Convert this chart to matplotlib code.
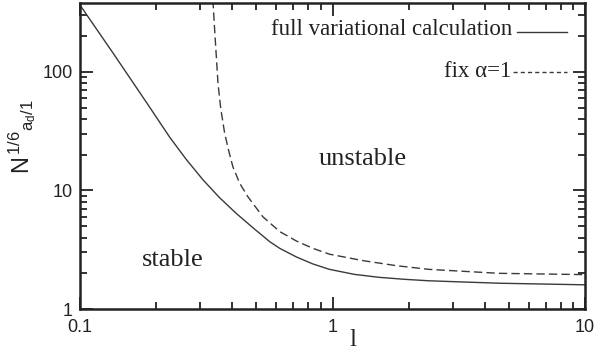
import matplotlib
matplotlib.use("Agg")
import matplotlib.pyplot as plt
from matplotlib import rcParams
from matplotlib.ticker import LogLocator, NullFormatter

# Plot styling
rcParams["font.family"] = "Liberation Sans"
rcParams["mathtext.fontset"] = "custom"
rcParams["mathtext.rm"] = "Liberation Sans"
rcParams["mathtext.it"] = "Liberation Sans"

# data (log-log)
x_full = [0.1, 0.135, 0.184, 0.227, 0.264, 0.307, 0.357, 0.416, 0.484, 0.564, 0.618,
          0.719, 0.836, 0.973, 1.22, 1.53, 1.93, 2.41, 3.3, 4.57, 10]
y_full = [367, 145, 54.7, 28, 18.2, 12.3, 8.7, 6.4, 4.85, 3.7, 3.25,
          2.75, 2.4, 2.16, 1.96, 1.85, 1.78, 1.73, 1.69, 1.65, 1.60]

x_fix = [0.336, 0.339, 0.342, 0.347, 0.352, 0.361, 0.374, 0.389, 0.403, 0.429, 0.462,
         0.53, 0.618, 0.719, 0.836, 0.973, 1.32, 1.79, 2.41, 3.3, 4.57, 10]
y_fix = [405, 293, 213, 131, 80, 49, 30.4, 21.2, 15.9, 11.5, 8.87,
         6.0, 4.5, 3.75, 3.25, 2.9, 2.56, 2.32, 2.16, 2.08, 2.0, 1.95]

x_ticks = [0.1, 1, 10]
x_ticklabels = ["0.1", "1", "10"]
y_ticks = [1, 10, 100]
y_ticklabels = ["1", "10", "100"]

serif = "Liberation Serif"
ink = "#222222"
line_col = "#3a3a3a"

fig = plt.figure(figsize=(6.02, 3.58), dpi=100)
ax = fig.add_axes([80 / 602, 49 / 358, 505 / 602, 306 / 358])

ax.plot(x_full, y_full, color=line_col, lw=1.0, linestyle="-")
ax.plot(x_fix, y_fix, color=line_col, lw=1.0, linestyle=(0, (6, 3)))

ax.set_xscale("log")
ax.set_yscale("log")
ax.set_xlim(0.1, 10)
ax.set_ylim(1, 382)

ax.set_xticks(x_ticks)
ax.set_xticklabels(x_ticklabels)
ax.set_yticks(y_ticks)
ax.set_yticklabels(y_ticklabels)
ax.xaxis.set_minor_locator(LogLocator(base=10, subs=range(2, 10)))
ax.yaxis.set_minor_locator(LogLocator(base=10, subs=range(2, 10)))
ax.xaxis.set_minor_formatter(NullFormatter())
ax.yaxis.set_minor_formatter(NullFormatter())

ax.tick_params(which="both", direction="in", top=True, right=True,
               width=1.3, color=ink, labelcolor=ink, labelsize=13)
ax.tick_params(which="major", length=9)
ax.tick_params(which="minor", length=5)
ax.tick_params(axis="x", which="major", pad=7)
ax.tick_params(axis="y", which="major", pad=5)
for s in ax.spines.values():
    s.set_linewidth(1.8)
    s.set_color(ink)

# legend drawn by hand, like the original
ax.text(0.855, 0.895, "full variational calculation", transform=ax.transAxes,
        ha="right", va="baseline", fontsize=16.5, family=serif, color=ink)
ax.plot([0.865, 0.964], [0.905, 0.905], transform=ax.transAxes,
        color=line_col, lw=1.0)
ax.text(0.853, 0.758, "fix \u03b1=1", transform=ax.transAxes,
        ha="right", va="baseline", fontsize=16.5, family=serif, color=ink)
ax.plot([0.857, 0.964], [0.775, 0.775], transform=ax.transAxes,
        color=line_col, lw=1.0, linestyle=(0, (3, 2.2)))

ax.text(0.559, 0.47, "unstable", transform=ax.transAxes,
        ha="center", va="baseline", fontsize=19, family=serif, color=ink)
ax.text(0.184, 0.14, "stable", transform=ax.transAxes,
        ha="center", va="baseline", fontsize=19, family=serif, color=ink)

# axis labels
fig.text(22 / 602, (358 - 137) / 358, r"$\mathregular{N^{\,1/6}{}_{a_{d}/1}}$",
         rotation=90, ha="center", va="center", fontsize=17, color=ink)
fig.text(353 / 602, (358 - 340) / 358, "l", ha="center", va="center",
         fontsize=18, family=serif, color=ink)

fig.savefig("out.png", dpi=100)
